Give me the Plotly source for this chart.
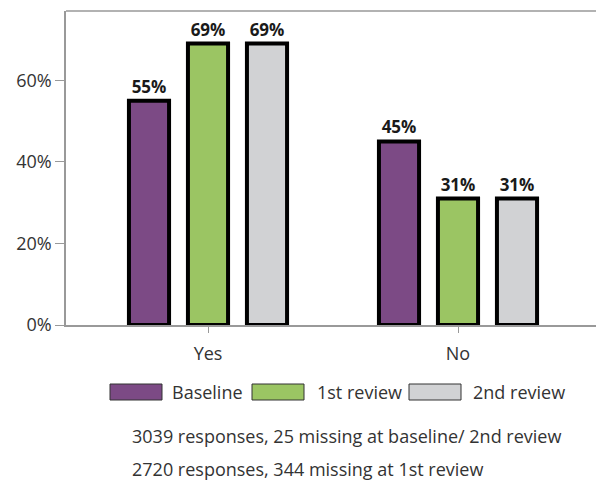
import plotly.graph_objects as go

categories = ["Yes", "No"]
series_names = ["Baseline", "1st review", "2nd review"]
baseline = [55, 45]
review_1 = [69, 31]
review_2 = [69, 31]
y_ticks = [0, 20, 40, 60]
y_tick_labels = ["0%", "20%", "40%", "60%"]
footnotes = [
    "3039 responses, 25 missing at baseline/ 2nd review",
    "2720 responses, 344 missing at 1st review",
]

colors = ["#7c4a85", "#9bc563", "#d1d2d4"]
font_family = "Open Sans, DejaVu Sans, sans-serif"
text_col = "#333333"

W, H = 596, 484
ML, MT, MB = 66, 11, 159
plot_w = W - ML
plot_h = H - MT - MB


# pixel -> paper helpers for the hand placed legend / notes
def px(x):
    return (x - ML) / plot_w


def py(y):
    return (H - MB - y) / plot_h


fig = go.Figure()
for name, vals, col in zip(series_names, [baseline, review_1, review_2], colors):
    fig.add_trace(go.Bar(
        x=categories, y=vals, name=name,
        marker=dict(color=col, line=dict(color="#000000", width=4)),
        texttemplate="%{y}%", textposition="outside",
        textfont=dict(family=font_family, size=17, color="#1a1a1a", weight="bold"),
        cliponaxis=False,
        showlegend=False,
    ))

# legend with wide swatches, plotly's own swatches are too small
swatch_x = [110, 252, 409]
label_x = [170, 315, 471]
for i, (name, col) in enumerate(zip(series_names, colors)):
    fig.add_shape(type="rect", xref="paper", yref="paper",
                  x0=px(swatch_x[i]), x1=px(swatch_x[i] + 52), y0=py(400), y1=py(384),
                  fillcolor=col, line=dict(color="#333333", width=1))
    fig.add_annotation(xref="paper", yref="paper", x=px(label_x[i]), y=py(392),
                       text=name, showarrow=False, xanchor="left", yanchor="middle",
                       font=dict(family=font_family, size=18, color=text_col))

for i, note in enumerate(footnotes):
    fig.add_annotation(xref="paper", yref="paper", x=px(130), y=py(436 + 33 * i),
                       text=note, showarrow=False, xanchor="left", yanchor="middle",
                       font=dict(family=font_family, size=18, color=text_col))

fig.add_shape(type="line", xref="paper", yref="paper", x0=0, x1=1, y0=1, y1=1,
              line=dict(color="#999999", width=1.5))

fig.update_layout(
    width=W, height=H,
    margin=dict(l=ML, r=0, t=MT, b=MB, autoexpand=False),
    plot_bgcolor="white", paper_bgcolor="white",
    barmode="group", bargap=0.292, bargroupgap=0.32,
    font=dict(family=font_family, size=18, color=text_col),
    xaxis=dict(range=[-0.568, 1.552], showline=True, linecolor="#999999", linewidth=1.5,
               ticks="outside", ticklen=6, tickcolor="#999999", showgrid=False,
               ticklabelstandoff=6, tickfont=dict(size=18, color=text_col)),
    yaxis=dict(range=[0, 77], tickvals=y_ticks, ticktext=y_tick_labels,
               showline=True, linecolor="#999999", linewidth=1.5,
               ticks="outside", ticklen=9, tickcolor="#999999", showgrid=False,
               zeroline=False, tickfont=dict(size=18, color=text_col)),
)

# drop the default 8px body margin so the 596x484 figure fills the window
fig.write_html("out.html", config={"displayModeBar": False},
               post_script="document.body.style.margin='0';document.body.style.overflow='hidden';")
